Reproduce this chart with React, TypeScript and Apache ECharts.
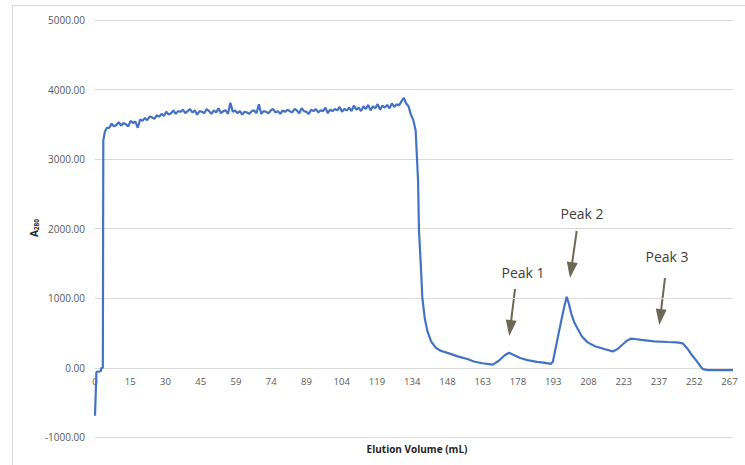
import React, { useEffect, useRef } from "react";
import * as echarts from "echarts";

// Injection start: [elution volume (mL), A280]
const injectionPoints: [number, number][] = [
  [0, -690], [0.6, -60], [2.4, -50], [2.7, -5], [3.3, 0], [3.5, 3270], [4.2, 3400], [5.0, 3450],
];

// Flow-through plateau, one reading per mL starting at 6 mL
const PLATEAU_START_ML = 6;
const plateauReadings: number[] = [
  3450, 3510, 3470, 3490, 3530, 3480, 3520, 3500, 3470, 3550,
  3520, 3540, 3450, 3570, 3550, 3590, 3560, 3610, 3600, 3580,
  3630, 3610, 3650, 3620, 3680, 3640, 3660, 3700, 3650, 3690,
  3680, 3710, 3660, 3690, 3720, 3670, 3700, 3640, 3690, 3680,
  3660, 3720, 3690, 3650, 3700, 3670, 3730, 3660, 3690, 3700,
  3650, 3810, 3680, 3700, 3660, 3690, 3640, 3680, 3670, 3650,
  3690, 3700, 3660, 3790, 3650, 3690, 3680, 3660, 3700, 3720,
  3670, 3690, 3650, 3700, 3680, 3710, 3690, 3670, 3720, 3700,
  3660, 3730, 3690, 3680, 3650, 3710, 3690, 3720, 3670, 3700,
  3690, 3740, 3660, 3710, 3690, 3720, 3700, 3750, 3680, 3720,
  3700, 3740, 3690, 3770, 3710, 3740, 3690, 3760, 3720, 3780,
  3700, 3760, 3730, 3790, 3710, 3770, 3740, 3780, 3730, 3800,
  3750, 3790, 3770, 3830,
];

// Wash and elution: [elution volume (mL), A280]
const elutionPoints: [number, number][] = [
  [130, 3880], [131, 3800], [132, 3760], [132.9, 3650], [134, 3560], [135, 3410],
  [136, 2700], [136.4, 1970], [137.2, 1450], [137.8, 1010], [138.8, 720], [139.9, 530],
  [141.5, 380], [143.4, 290], [145.5, 245], [149.7, 200], [153, 160], [156.8, 125],
  [159.5, 90], [163, 65], [167.5, 45], [170, 100], [172.5, 180], [174.3, 215],
  [176.5, 180], [179, 140], [182.1, 110], [186, 85], [189.5, 70], [191.9, 55],
  [192.8, 90], [195.4, 530], [197.5, 870], [198.6, 1020], [199.5, 920], [200.5, 780],
  [201.8, 650], [203.2, 560], [205, 450], [207.4, 365], [210.5, 310], [214.4, 270],
  [218, 235], [220, 270], [222, 330], [224, 390], [225.7, 420], [228, 410],
  [230, 400], [235.4, 380], [241, 370], [245, 365], [247.5, 350], [249.5, 270],
  [251, 195], [253, 110], [254.5, 40], [255.9, -20], [258, -35], [268.6, -35],
];

// Axis settings
const X_MAX_ML = 268.6;
const X_LABEL_STEP_ML = 14.84;
const Y_MIN = -1000;
const Y_MAX = 5000;
const Y_STEP = 1000;

// Peak annotations
const peakLabels = ["Peak 1", "Peak 2", "Peak 3"];

const LINE_COLOR = "#4472C4";
const GRID_COLOR = "#d9d9d9";
const ARROW_COLOR = "#6d6856";

const GRID_TOP = 20;
const GRID_BOTTOM = 27.7;
const CHART_H = 465;

function arrow(x1: number, y1: number, x2: number, y2: number) {
  const dx = x2 - x1;
  const dy = y2 - y1;
  const len = Math.sqrt(dx * dx + dy * dy);
  const ux = dx / len;
  const uy = dy / len;
  const headLen = 16;
  const halfW = 5.5;
  const bx = x2 - ux * headLen;
  const by = y2 - uy * headLen;
  return {
    type: "group",
    children: [
      {
        type: "line",
        shape: { x1, y1, x2: bx + ux * 2, y2: by + uy * 2 },
        style: { stroke: ARROW_COLOR, lineWidth: 2 },
      },
      {
        type: "polygon",
        shape: {
          points: [
            [x2, y2],
            [bx - uy * halfW, by + ux * halfW],
            [bx + uy * halfW, by - ux * halfW],
          ],
        },
        style: { fill: ARROW_COLOR },
      },
    ],
  };
}

export default function App() {
  const ref = useRef<HTMLDivElement>(null);

  useEffect(() => {
    if (!ref.current) return;
    const chart = echarts.init(ref.current, undefined, { renderer: "svg" });

    const plateauPoints: [number, number][] = plateauReadings.map((a, i) => [
      PLATEAU_START_ML + i,
      a,
    ]);
    const trace = [...injectionPoints, ...plateauPoints, ...elutionPoints];

    // The category axis sits on the zero line: shift it up from the grid bottom
    const plotH = CHART_H - GRID_TOP - GRID_BOTTOM;
    const zeroOffset = (plotH * (0 - Y_MIN)) / (Y_MAX - Y_MIN);

    const labelFont = "'Open Sans', sans-serif";

    chart.setOption({
      animation: false,
      backgroundColor: "#ffffff",
      grid: { left: 95, right: 12, top: GRID_TOP, bottom: GRID_BOTTOM, containLabel: false },
      xAxis: {
        type: "value",
        min: 0,
        max: X_MAX_ML,
        interval: X_LABEL_STEP_ML,
        position: "bottom",
        offset: -zeroOffset,
        axisLine: { onZero: false, lineStyle: { color: GRID_COLOR, width: 1 } },
        axisTick: { show: false },
        splitLine: { show: false },
        axisLabel: {
          showMaxLabel: false,
          margin: 9,
          color: "#595959",
          fontSize: 9.5,
          fontFamily: labelFont,
          formatter: (v: number) => String(Math.round(v)),
        },
      },
      yAxis: {
        type: "value",
        min: Y_MIN,
        max: Y_MAX,
        interval: Y_STEP,
        axisLine: { show: false },
        axisTick: { show: false },
        splitLine: { lineStyle: { color: GRID_COLOR, width: 1 } },
        axisLabel: {
          margin: 10,
          color: "#595959",
          fontSize: 10,
          fontFamily: labelFont,
          formatter: (v: number) => v.toFixed(2),
        },
      },
      series: [
        {
          type: "line",
          data: trace,
          showSymbol: false,
          symbol: "none",
          lineStyle: { color: LINE_COLOR, width: 2.2 },
          z: 3,
        },
      ],
      graphic: [
        {
          type: "rect",
          shape: { x: 12.5, y: 5.5, width: 760, height: 480 },
          style: { fill: "none", stroke: GRID_COLOR, lineWidth: 1 },
          silent: true,
          z: -1,
        },
        {
          type: "text",
          x: 417,
          y: 449,
          style: {
            text: "Elution Volume (mL)",
            fill: "#262626",
            font: `bold 10px ${labelFont}`,
            align: "center",
            verticalAlign: "middle",
          },
        },
        {
          type: "text",
          x: 34,
          y: 228,
          rotation: Math.PI / 2,
          style: {
            text: "{a|A}{s|280}",
            align: "center",
            verticalAlign: "middle",
            rich: {
              a: { fill: "#262626", font: `bold 10px ${labelFont}` },
              s: { fill: "#262626", font: `bold 6.5px ${labelFont}`, verticalAlign: "bottom", padding: [4, 0, 0, 0] },
            },
          },
        },
        {
          type: "text",
          x: 523,
          y: 272,
          style: { text: peakLabels[0], fill: "#404040", font: `14px ${labelFont}`, align: "center", verticalAlign: "middle" },
        },
        {
          type: "text",
          x: 582,
          y: 213,
          style: { text: peakLabels[1], fill: "#404040", font: `14px ${labelFont}`, align: "center", verticalAlign: "middle" },
        },
        {
          type: "text",
          x: 667,
          y: 256,
          style: { text: peakLabels[2], fill: "#404040", font: `14px ${labelFont}`, align: "center", verticalAlign: "middle" },
        },
        arrow(515, 289, 509.3, 336),
        arrow(576.7, 231, 570, 278),
        arrow(665, 278, 659.3, 325),
      ],
    });

    return () => chart.dispose();
  }, []);

  return (
    <div
      ref={ref}
      style={{ position: "fixed", left: 0, top: 0, width: 745, height: 465, background: "#fff" }}
    />
  );
}
